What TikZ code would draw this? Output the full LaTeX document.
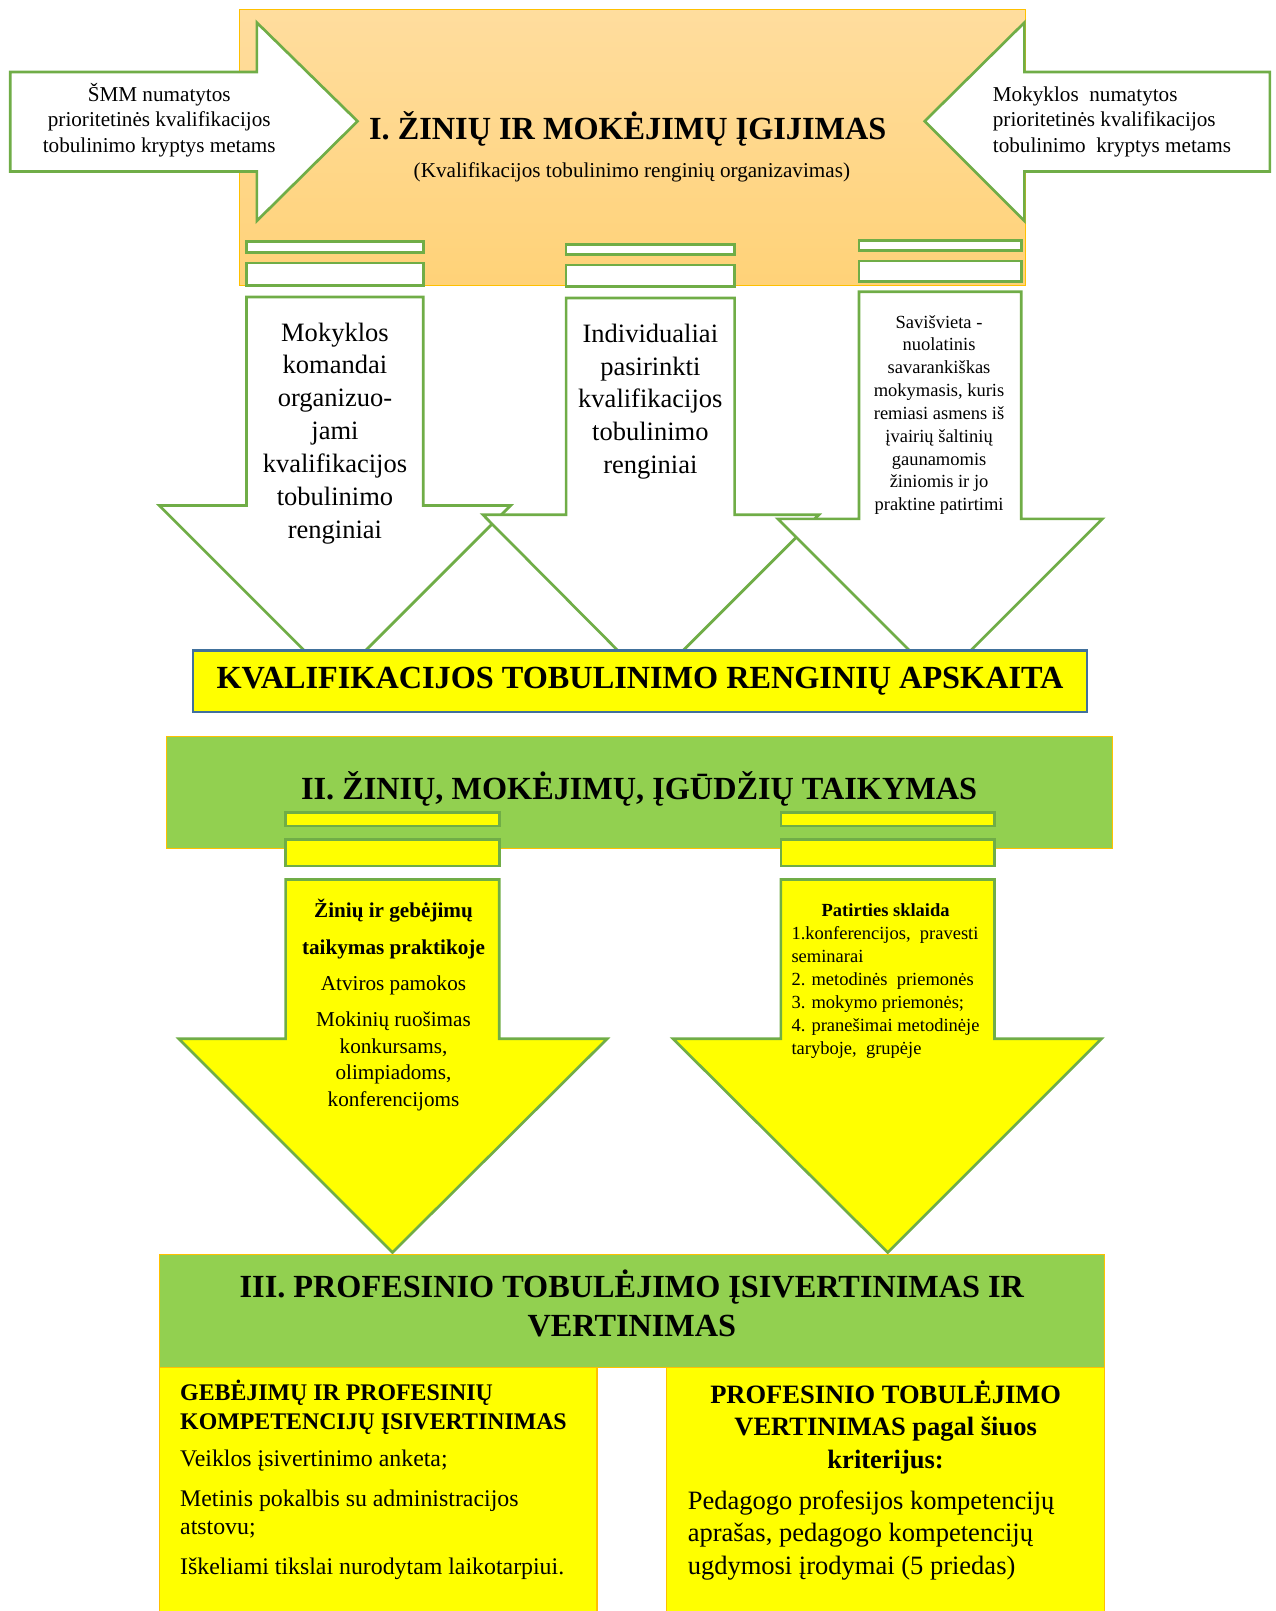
\documentclass[tikz,border=0pt]{standalone}
\usepackage{fontspec}
\setmainfont{Liberation Serif}
\usepackage{tikz}
\usetikzlibrary{positioning}
\definecolor{lgreen}{RGB}{112,173,71}
\definecolor{ggreen}{RGB}{146,208,80}
\definecolor{gold}{RGB}{255,192,0}
\definecolor{yel}{RGB}{255,255,0}
\definecolor{ltorange}{RGB}{255,221,158}
\definecolor{dkorange}{RGB}{255,210,120}
\definecolor{bblue}{RGB}{65,113,156}
\tikzset{blk/.style={draw=lgreen,line width=1.3pt,fill=white},
         yblk/.style={draw=lgreen,line width=1.3pt,fill=yel},
         hdr/.style={font=\fontsize{15.7}{19}\selectfont\bfseries,inner sep=0},
         txt/.style={inner sep=0,align=center}}

\begin{document}
\begin{tikzpicture}[x=0.5pt,y=-0.5pt]
    \useasboundingbox (0,0) rectangle (1241,1568);

    % stage I
    \draw[gold,line width=0.6pt,top color=ltorange,bottom color=dkorange] (233,9) rectangle (998,278);
    \draw[blk] (10,70) -- (250,70) -- (250,22) -- (348,118) -- (250,215) -- (250,167) -- (10,167) -- cycle;
    \draw[blk] (1236,70) -- (997,70) -- (997,22) -- (900,118) -- (997,215) -- (997,167) -- (1236,167) -- cycle;
    \node[txt,anchor=base,font=\fontsize{10.3}{12.25}\selectfont] (smm) at (155,148)
        {ŠMM numatytos\\prioritetinės kvalifikacijos\\tobulinimo kryptys metams};
    \node[txt,align=left,anchor=base west,font=\fontsize{10.3}{12.25}\selectfont] (mok) at (966,148)
        {Mokyklos~ numatytos\\prioritetinės kvalifikacijos\\tobulinimo~ kryptys metams};
    \node[hdr,anchor=base] (igijimas) at (611,136) {I. ŽINIŲ IR MOKĖJIMŲ ĮGIJIMAS};
    \node[txt,anchor=base,font=\fontsize{10.3}{12}\selectfont] (org) at (615,173)
        {(Kvalifikacijos tobulinimo renginių organizavimas)};

    \draw[blk] (240,235) rectangle (412,246);
    \draw[blk] (240,256) rectangle (412,278);
    \draw[blk] (551,238) rectangle (715,248);
    \draw[blk] (551,258) rectangle (715,279);
    \draw[blk] (836,234) rectangle (994,244);
    \draw[blk] (836,254) rectangle (994,274);

    \draw[blk] (240,289) -- (412,289) -- (412,492) -- (497,492) -- (326,663) -- (155,492) -- (240,492) -- cycle;
    \draw[blk] (551,290) -- (715,290) -- (715,501) -- (797,501) -- (633,665) -- (470,501) -- (551,501) -- cycle;
    \draw[blk] (836,284) -- (994,284) -- (994,505) -- (1073,505) -- (915,663) -- (757,505) -- (836,505) -- cycle;
    \node[txt,anchor=base,font=\fontsize{12.9}{16}\selectfont] (komandai) at (326,524)
        {Mokyklos\\komandai\\organizuo-\\jami\\kvalifikacijos\\tobulinimo\\renginiai};
    \node[txt,anchor=base,font=\fontsize{12.9}{16}\selectfont] (indiv) at (633,461)
        {Individualiai\\pasirinkti\\kvalifikacijos\\tobulinimo\\renginiai};
    \node[txt,anchor=base,font=\fontsize{9}{11.1}\selectfont] (saviv) at (914,497)
        {Savišvieta -\\nuolatinis\\savarankiškas\\mokymasis, kuris\\remiasi asmens iš\\įvairių šaltinių\\gaunamomis\\žiniomis ir jo\\praktine patirtimi};

    \node[hdr,draw=bblue,line width=1.3pt,fill=yel,minimum width=435pt,minimum height=30pt] (apskaita) at (623,663)
        {KVALIFIKACIJOS TOBULINIMO RENGINIŲ APSKAITA};

    % stage II
    \node[hdr,draw=gold,line width=0.6pt,fill=ggreen,minimum width=460.5pt,minimum height=54.5pt] (taikymas) at (622.5,771.5) {};
    \node[hdr,anchor=base] (taikt) at (622,778) {II. ŽINIŲ, MOKĖJIMŲ, ĮGŪDŽIŲ TAIKYMAS};
    \draw[yblk] (278,791) rectangle (486,804);
    \draw[yblk] (278,817) rectangle (486,843);
    \draw[yblk] (760,791) rectangle (968,804);
    \draw[yblk] (760,817) rectangle (968,843);
    \draw[yblk] (278,856) -- (486,856) -- (486,1011) -- (591,1011) -- (382,1219) -- (174,1011) -- (278,1011) -- cycle;
    \draw[yblk] (760,856) -- (968,856) -- (968,1011) -- (1072,1011) -- (864,1219) -- (655,1011) -- (760,1011) -- cycle;
    \node[txt,anchor=base,font=\fontsize{10.3}{13}\selectfont] (praktika) at (383,1077)
        {\textbf{Žinių ir gebėjimų}\\[5pt]\textbf{taikymas praktikoje}\\[4.5pt]Atviros pamokos\\[4.5pt]Mokinių ruošimas\\konkursams,\\olimpiadoms,\\konferencijoms};
    \node[txt,anchor=base,font=\fontsize{9}{11.2}\selectfont\bfseries] (sklaida) at (862,892) {Patirties sklaida};
    \node[txt,align=left,anchor=base west,font=\fontsize{9}{11.2}\selectfont] (sklist) at (770,1026)
        {1.konferencijos,~ pravesti\\seminarai\\2. metodinės~ priemonės\\3. mokymo priemonės;\\4. pranešimai metodinėje\\taryboje,~ grupėje};

    % stage III
    \node[fill=ggreen,draw=gold,line width=0.6pt,minimum width=460pt,minimum height=55pt] (vertinimas) at (615,1276) {};
    \node[hdr,align=center,anchor=base] (vertt) at (615,1301)
        {III. PROFESINIO TOBULĖJIMO ĮSIVERTINIMAS IR\\VERTINIMAS};
    \draw[gold,line width=0.6pt,fill=yel] (155,1331) rectangle (581,1580);
    \draw[gold,line width=0.6pt,fill=yel] (649,1331) rectangle (1075,1580);
    \node[txt,align=left,anchor=base west,font=\fontsize{11.6}{14}\selectfont] (isiv) at (175,1532)
        {\textbf{GEBĖJIMŲ IR PROFESINIŲ}\\\textbf{KOMPETENCIJŲ ĮSIVERTINIMAS}\\[4pt]Veiklos įsivertinimo anketa;\\[5.5pt]Metinis pokalbis su administracijos\\atstovu;\\[5pt]Iškeliami tikslai nurodytam laikotarpiui.};
    \node[txt,anchor=base,font=\fontsize{12.9}{15.8}\selectfont\bfseries] (krit) at (862,1429)
        {PROFESINIO TOBULĖJIMO\\VERTINIMAS pagal šiuos\\kriterijus:};
    \node[txt,align=left,anchor=base west,font=\fontsize{12.9}{15.8}\selectfont] (apras) at (669,1532)
        {Pedagogo profesijos kompetencijų\\aprašas, pedagogo kompetencijų\\ugdymosi įrodymai (5 priedas)};
\end{tikzpicture}
\end{document}
